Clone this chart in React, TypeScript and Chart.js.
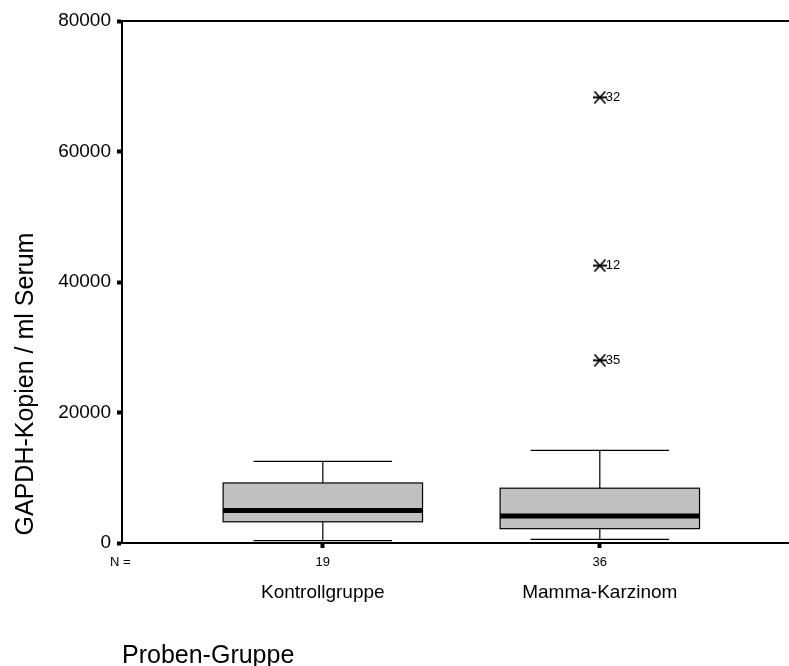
import React, { useEffect, useRef } from "react";
import { Chart, registerables } from "chart.js";

Chart.register(...registerables);

// Sample groups and their case counts
const groups = ["Kontrollgruppe", "Mamma-Karzinom"];
const groupN = [19, 36];

// Box-plot summary per group (GAPDH copies / ml serum)
const whiskerLow = [350, 550];
const quartile1 = [3250, 2200];
const median = [5000, 4150];
const quartile3 = [9200, 8400];
const whiskerHigh = [12500, 14200];

// Extreme values (group index 1-based, value, case number)
const extremeGroup = [2, 2, 2];
const extremeValues = [68300, 42500, 28000];
const extremeCase = ["32", "12", "35"];

// Y axis ticks
const yTicks = [0, 20000, 40000, 60000, 80000];

const FONT = 'Arial, "Liberation Sans", sans-serif';

function makeAsterisk(): HTMLCanvasElement {
  const c = document.createElement("canvas");
  c.width = 14;
  c.height = 13;
  const g = c.getContext("2d")!;
  g.strokeStyle = "#000";
  g.lineWidth = 1.6;
  g.beginPath();
  g.moveTo(1.5, 0.5);
  g.lineTo(12.5, 12.5);
  g.moveTo(12.5, 0.5);
  g.lineTo(1.5, 12.5);
  g.stroke();
  g.lineWidth = 2;
  g.beginPath();
  g.moveTo(0, 6.5);
  g.lineTo(14, 6.5);
  g.stroke();
  return c;
}

const boxPlotPlugin = {
  id: "boxPlot",
  beforeDatasetsDraw(chart: any) {
    const { ctx, scales, chartArea } = chart;
    const xs = scales.x;
    const ys = scales.y;
    ctx.save();
    // top frame line
    ctx.strokeStyle = "#000";
    ctx.lineWidth = 2;
    ctx.beginPath();
    ctx.moveTo(chartArea.left, chartArea.top);
    ctx.lineTo(chartArea.right, chartArea.top);
    ctx.stroke();

    const boxHalf = 0.36;
    const capHalf = 0.25;
    groups.forEach((_, i) => {
      const pos = i + 1;
      const cx = xs.getPixelForValue(pos);
      const bl = xs.getPixelForValue(pos - boxHalf);
      const br = xs.getPixelForValue(pos + boxHalf);
      const cl = xs.getPixelForValue(pos - capHalf);
      const cr = xs.getPixelForValue(pos + capHalf);
      const yLo = ys.getPixelForValue(whiskerLow[i]);
      const yQ1 = ys.getPixelForValue(quartile1[i]);
      const yMed = ys.getPixelForValue(median[i]);
      const yQ3 = ys.getPixelForValue(quartile3[i]);
      const yHi = ys.getPixelForValue(whiskerHigh[i]);

      ctx.strokeStyle = "#000";
      ctx.lineWidth = 1.2;
      // whiskers
      ctx.beginPath();
      ctx.moveTo(cx, yHi);
      ctx.lineTo(cx, yQ3);
      ctx.moveTo(cx, yQ1);
      ctx.lineTo(cx, yLo);
      ctx.moveTo(cl, yHi);
      ctx.lineTo(cr, yHi);
      ctx.moveTo(cl, yLo);
      ctx.lineTo(cr, yLo);
      ctx.stroke();

      // box
      ctx.fillStyle = "#c0c0c0";
      ctx.fillRect(bl, yQ3, br - bl, yQ1 - yQ3);
      ctx.lineWidth = 1.2;
      ctx.strokeRect(bl, yQ3, br - bl, yQ1 - yQ3);

      // median
      ctx.lineWidth = 5;
      ctx.beginPath();
      ctx.moveTo(bl, yMed);
      ctx.lineTo(br, yMed);
      ctx.stroke();
    });
    ctx.restore();
  },
  afterDatasetsDraw(chart: any) {
    const { ctx, scales } = chart;
    const xs = scales.x;
    const ys = scales.y;
    ctx.save();
    ctx.fillStyle = "#000";

    // case numbers beside extreme values
    ctx.font = `13px ${FONT}`;
    ctx.textAlign = "left";
    ctx.textBaseline = "middle";
    extremeValues.forEach((v, k) => {
      const px = xs.getPixelForValue(extremeGroup[k]);
      const py = ys.getPixelForValue(v);
      ctx.fillText(extremeCase[k], px + 6, py);
    });

    // N row and group names
    ctx.textBaseline = "alphabetic";
    ctx.textAlign = "left";
    ctx.font = `13px ${FONT}`;
    ctx.fillText("N =", 110, 566);
    ctx.textAlign = "center";
    groups.forEach((name, i) => {
      const px = xs.getPixelForValue(i + 1);
      ctx.font = `13px ${FONT}`;
      ctx.fillText(String(groupN[i]), px, 566);
      ctx.font = `19px ${FONT}`;
      ctx.fillText(name, px, 598);
    });

    // axis titles
    ctx.font = `25px ${FONT}`;
    ctx.textAlign = "left";
    ctx.fillText("Proben-Gruppe", 122, 663);

    ctx.translate(33, 384);
    ctx.rotate(-Math.PI / 2);
    ctx.textAlign = "center";
    ctx.fillText("GAPDH-Kopien / ml Serum", 0, 0);
    ctx.restore();
  },
};

export default function App() {
  const canvasRef = useRef<HTMLCanvasElement | null>(null);

  useEffect(() => {
    if (!canvasRef.current) return;
    const chart = new Chart(canvasRef.current, {
      type: "scatter",
      data: {
        datasets: [
          {
            label: "Extremwerte",
            data: extremeValues.map((v, k) => ({ x: extremeGroup[k], y: v })),
            pointStyle: makeAsterisk(),
            pointRadius: 7,
            pointHoverRadius: 7,
          },
        ],
      },
      options: {
        animation: false,
        responsive: false,
        devicePixelRatio: 1,
        layout: { autoPadding: false, padding: { top: 21, right: 0, left: 0, bottom: 0 } },
        plugins: {
          legend: { display: false },
          tooltip: { enabled: false },
          title: { display: false },
        },
        scales: {
          x: {
            type: "linear",
            min: 0.275,
            max: 2.683,
            afterBuildTicks: (scale: any) => {
              scale.ticks = groups.map((_, i) => ({ value: i + 1 }));
            },
            afterFit: (scale: any) => {
              scale.height = 123;
            },
            ticks: { display: false },
            grid: {
              drawOnChartArea: false,
              drawTicks: true,
              tickLength: 5,
              tickWidth: 4,
              tickColor: "#000",
            },
            border: { display: true, color: "#000", width: 2 },
          },
          y: {
            min: 0,
            max: 80000,
            afterBuildTicks: (scale: any) => {
              scale.ticks = yTicks.map((v) => ({ value: v }));
            },
            afterFit: (scale: any) => {
              scale.width = 122;
            },
            ticks: {
              color: "#000",
              padding: 6,
              font: { family: FONT, size: 19 },
              callback: (v: any) => String(v),
            },
            grid: {
              drawOnChartArea: false,
              drawTicks: true,
              tickLength: 5,
              tickWidth: 4,
              tickColor: "#000",
            },
            border: { display: true, color: "#000", width: 2 },
          },
        },
      },
      plugins: [boxPlotPlugin],
    });
    return () => chart.destroy();
  }, []);

  return (
    <div style={{ position: "absolute", left: 0, top: 0, width: 789, height: 666, background: "#fff" }}>
      <canvas ref={canvasRef} width={789} height={666} style={{ display: "block" }} />
    </div>
  );
}
